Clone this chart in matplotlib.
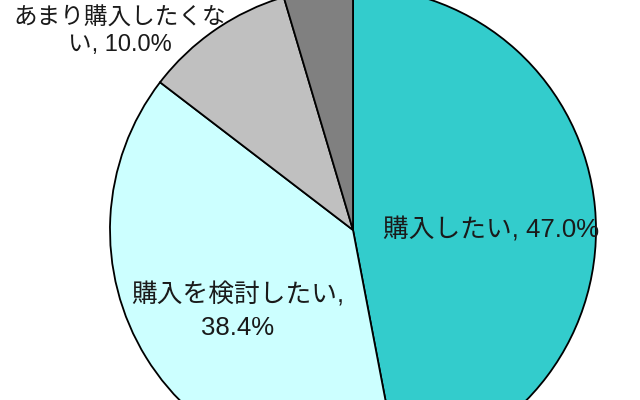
import matplotlib.pyplot as plt

plt.rcParams['font.family'] = ['Liberation Sans', 'Noto Sans CJK JP', 'DejaVu Sans']

categories = ["購入したい", "購入を検討したい", "あまり購入したくない", "購入したくない"]
shares = [47.0, 38.4, 10.0, 4.6]
colors = ["#33CCCC", "#CCFFFF", "#C0C0C0", "#808080"]

fig = plt.figure(figsize=(6.4, 4.0), dpi=100)
ax = fig.add_axes([0, 0, 1, 1])

# 中心と半径は画像の座標 (y は下向き)
cx, cy, r = 353, 230, 243
# y軸を反転しているので counterclock=True で見た目は時計回り
ax.pie(shares, colors=colors, startangle=-90, counterclock=True,
       center=(cx, cy), radius=r, frame=True,
       wedgeprops=dict(edgecolor="black", linewidth=1.3))
ax.set_xlim(0, 640)
ax.set_ylim(400, 0)
ax.set_aspect('equal')
ax.axis('off')

ax.text(491, 230, f"{categories[0]}, {shares[0]:.1f}%", fontsize=18.5,
        ha='center', va='center', color="#1a1a1a")
ax.text(238, 311, f"{categories[1]},\n{shares[1]:.1f}%", fontsize=18.5,
        ha='center', va='center', color="#1a1a1a", linespacing=1.45)
ax.text(120, 32, f"{categories[2][:-1]}\n{categories[2][-1]}, {shares[2]:.1f}%",
        fontsize=17, ha='center', va='center', color="#1a1a1a", linespacing=1.25)

fig.savefig("out.png", dpi=100)
